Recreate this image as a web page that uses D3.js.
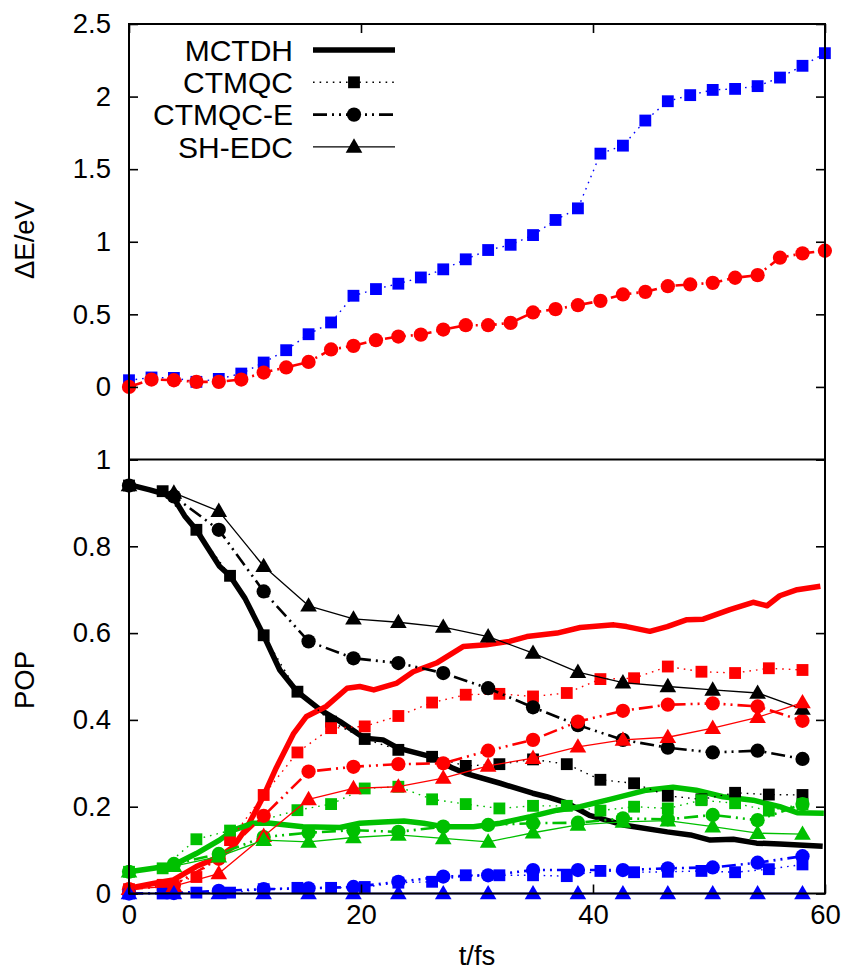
<!DOCTYPE html>
<html><head><meta charset="utf-8">
<script src="https://cdn.jsdelivr.net/npm/d3@7"></script>
<style>body{margin:0;background:#fff}svg{display:block}</style>
</head><body>
<svg id="c" width="850" height="970"></svg>
<script>
// ---------- data ----------
const xTicks = [0, 20, 40, 60];
const yTopTicks = [-0.5, 0, 0.5, 1, 1.5, 2, 2.5];
const yTopLabels = [0, 0.5, 1, 1.5, 2, 2.5];
const yBotTicks = [0, 0.2, 0.4, 0.6, 0.8, 1];

// top panel (energy) time grid, fs
const topTime = [0,1.94,3.87,5.81,7.74,9.68,11.61,13.55,15.48,17.42,19.35,21.29,23.22,25.16,27.09,29.03,30.96,32.90,34.83,36.77,38.70,40.64,42.58,44.51,46.45,48.38,50.32,52.25,54.19,56.12,58.06,59.99];
const topCTMQC = [0.046,0.065,0.062,0.035,0.055,0.092,0.168,0.253,0.363,0.444,0.628,0.674,0.711,0.754,0.81,0.879,0.943,0.979,1.046,1.15,1.23,1.607,1.662,1.835,1.968,2.01,2.046,2.053,2.072,2.131,2.212,2.299];
const topCTMQCE = [0.0,0.051,0.046,0.035,0.035,0.051,0.099,0.134,0.172,0.258,0.283,0.322,0.347,0.36,0.395,0.425,0.425,0.441,0.513,0.536,0.563,0.593,0.637,0.655,0.694,0.706,0.717,0.752,0.770,0.89,0.92,0.938];

// bottom panel: CTMQC time grid
const sqTime = [0,2.90,5.81,8.71,11.61,14.52,17.42,20.32,23.22,26.13,29.03,31.93,34.83,37.74,40.64,43.54,46.45,49.35,52.25,55.16,58.06];
const sqBlack = [0.94,0.927,0.838,0.732,0.595,0.465,0.396,0.356,0.331,0.315,0.294,0.298,0.309,0.298,0.262,0.254,0.225,0.217,0.232,0.228,0.227];
const sqRed   = [0.01,0.02,0.038,0.123,0.227,0.325,0.381,0.385,0.409,0.44,0.458,0.46,0.454,0.462,0.494,0.496,0.523,0.511,0.508,0.519,0.515];
const sqGreen = [0.05,0.058,0.125,0.145,0.17,0.192,0.206,0.242,0.246,0.217,0.206,0.196,0.202,0.202,0.191,0.2,0.196,0.215,0.208,0.191,0.206];
const sqBlue  = [0,0,0.002,0.002,0.01,0.013,0.013,0.015,0.025,0.027,0.042,0.042,0.042,0.04,0.052,0.049,0.05,0.052,0.049,0.056,0.067];

// bottom panel: CTMQC-E and SH-EDC time grid
const ctTime = [0,3.87,7.74,11.61,15.48,19.35,23.22,27.09,30.96,34.83,38.70,42.58,46.45,50.32,54.19,58.06];
const ceBlack = [0.94,0.915,0.838,0.696,0.581,0.542,0.531,0.508,0.473,0.429,0.388,0.354,0.336,0.325,0.329,0.31];
const ceRed   = [0.01,0.019,0.08,0.179,0.281,0.292,0.298,0.3,0.329,0.354,0.396,0.421,0.435,0.438,0.431,0.398];
const ceGreen = [0.05,0.068,0.091,0.13,0.14,0.146,0.142,0.154,0.158,0.162,0.163,0.173,0.171,0.181,0.169,0.206];
const ceBlue  = [0,0.001,0.006,0.01,0.012,0.015,0.027,0.039,0.042,0.054,0.054,0.054,0.058,0.06,0.071,0.086];
const shBlack = [0.94,0.923,0.881,0.754,0.663,0.633,0.625,0.614,0.592,0.554,0.51,0.486,0.477,0.469,0.462,0.425];
const shRed   = [0.01,0.017,0.046,0.132,0.217,0.242,0.246,0.266,0.294,0.312,0.338,0.354,0.36,0.381,0.406,0.44];
const shGreen = [0.05,0.063,0.085,0.123,0.119,0.129,0.135,0.127,0.119,0.14,0.158,0.165,0.168,0.154,0.139,0.137];
const shBlue  = [0,0,0,0,0,0,0,0,0,0,0,0,0,0,0,0];

// MCTDH curves [t (fs), population]
const mctdhBlack = [[0,0.942],[1.8,0.93],[3.1,0.92],[4,0.905],[4.8,0.87],[5.8,0.838],[6.7,0.80],[7.8,0.754],[8.7,0.732],[10,0.68],[11.6,0.595],[13,0.515],[14.5,0.465],[16.5,0.423],[18.2,0.396],[20.3,0.358],[21.9,0.354],[23.2,0.335],[26.1,0.315],[27.9,0.289],[29,0.277],[32,0.254],[34.8,0.231],[36,0.223],[37.8,0.208],[39.7,0.18],[42.6,0.158],[46.4,0.142],[48.4,0.135],[50.1,0.123],[52.1,0.125],[54.1,0.116],[56.1,0.114],[59.8,0.109]];
const mctdhRed = [[0,0.012],[2.1,0.023],[3.8,0.031],[5.8,0.062],[7.8,0.085],[9,0.108],[10.2,0.154],[11.6,0.225],[12.7,0.29],[14.2,0.369],[15.3,0.408],[17,0.431],[18.8,0.473],[19.9,0.477],[21.1,0.469],[23.1,0.485],[24.5,0.511],[26.5,0.531],[28.8,0.569],[30.8,0.573],[32.8,0.581],[34.3,0.592],[36.9,0.6],[38.9,0.613],[41.8,0.619],[42.9,0.615],[44.9,0.604],[46.4,0.615],[48.1,0.631],[49.5,0.632],[51.8,0.654],[53.8,0.671],[55,0.663],[56.1,0.686],[57.6,0.7],[59.6,0.708]];
const mctdhGreen = [[0,0.05],[2.1,0.058],[3.8,0.065],[5.8,0.092],[7.8,0.123],[9,0.146],[10.7,0.162],[12.2,0.162],[15,0.154],[18.2,0.152],[19.9,0.162],[21.9,0.165],[23.7,0.167],[25.4,0.162],[27.1,0.154],[29.7,0.154],[32,0.162],[34.6,0.177],[36.9,0.192],[38.9,0.2],[41.8,0.219],[44.6,0.238],[46.9,0.245],[48.9,0.238],[51.2,0.223],[53.8,0.215],[56.1,0.2],[57.6,0.186],[59.9,0.185]];

const colBlack = "#000000", colRed = "#ff0000", colGreen = "#00c000", colBlue = "#0000ff";
const legendNames = ["MCTDH", "CTMQC", "CTMQC-E", "SH-EDC"];

// ---------- layout ----------
const svg = d3.select("#c");
const xL = 129, xR = 825, yT = 24, yM = 459.5, yB = 893.5;
const x = d3.scaleLinear().domain([0, 60]).range([xL, xR]);
const yTop = d3.scaleLinear().domain([-0.5, 2.5]).range([yM, yT]);
const yBot = d3.scaleLinear().domain([0, 1]).range([yB, yM]);
const FONT = "'Liberation Sans', Arial, Helvetica, sans-serif";

const styles = {
  ctmqc:  {w: 1.4, dash: "1.6,5", marker: "square"},
  ctmqce: {w: 2.6, dash: "14,5,2,5,2,5", marker: "circle"},
  shedc:  {w: 1.3, dash: null, marker: "triangle"},
  mctdh:  {w: 5.5, dash: null, marker: null}
};
const symGen = {
  square: d3.symbol().type(d3.symbolSquare).size(140),
  circle: d3.symbol().type(d3.symbolCircle).size(160),
  triangle: d3.symbol().type(d3.symbolTriangle).size(120)
};

function drawSeries(g, ts, vs, y, col, st) {
  const pts = ts.map((t, i) => [t, vs[i]]);
  drawPairs(g, pts, y, col, st);
}
function drawPairs(g, pts, y, col, st) {
  const line = d3.line().x(d => x(d[0])).y(d => y(d[1]));
  const p = g.append("path").attr("d", line(pts)).attr("fill", "none")
    .attr("stroke", col).attr("stroke-width", st.w).attr("stroke-linejoin", "round");
  if (st.dash) p.attr("stroke-dasharray", st.dash);
  if (st.marker) {
    g.selectAll(null).data(pts).enter().append("path")
      .attr("d", symGen[st.marker]())
      .attr("transform", d => `translate(${x(d[0])},${y(d[1]) + (st.marker === "triangle" ? 1 : 0)})`)
      .attr("fill", col);
  }
}

// ---------- top panel ----------
const gTop = svg.append("g");
drawSeries(gTop, topTime, topCTMQC, yTop, colBlue, styles.ctmqc);
drawSeries(gTop, topTime, topCTMQCE, yTop, colRed, styles.ctmqce);

// ---------- bottom panel ----------
const gBot = svg.append("g");
drawPairs(gBot, mctdhBlack, yBot, colBlack, styles.mctdh);
drawPairs(gBot, mctdhRed, yBot, colRed, styles.mctdh);
drawPairs(gBot, mctdhGreen, yBot, colGreen, styles.mctdh);

drawSeries(gBot, sqTime, sqBlack, yBot, colBlack, styles.ctmqc);
drawSeries(gBot, sqTime, sqRed, yBot, colRed, styles.ctmqc);
drawSeries(gBot, sqTime, sqGreen, yBot, colGreen, styles.ctmqc);
drawSeries(gBot, sqTime, sqBlue, yBot, colBlue, styles.ctmqc);

drawSeries(gBot, ctTime, ceBlack, yBot, colBlack, styles.ctmqce);
drawSeries(gBot, ctTime, ceRed, yBot, colRed, styles.ctmqce);
drawSeries(gBot, ctTime, ceGreen, yBot, colGreen, styles.ctmqce);
drawSeries(gBot, ctTime, ceBlue, yBot, colBlue, styles.ctmqce);

drawSeries(gBot, ctTime, shBlack, yBot, colBlack, styles.shedc);
drawSeries(gBot, ctTime, shRed, yBot, colRed, styles.shedc);
drawSeries(gBot, ctTime, shGreen, yBot, colGreen, styles.shedc);
drawSeries(gBot, ctTime, shBlue, yBot, colBlue, styles.shedc);

// ---------- axes ----------
function styleAxis(g, showText) {
  g.select(".domain").remove();
  g.selectAll(".tick line").attr("stroke", "#000").attr("stroke-width", 1.6);
  g.selectAll(".tick text").attr("font-family", FONT).attr("font-size", 27.5).attr("fill", "#000");
  if (!showText) g.selectAll(".tick text").remove();
}
// top panel axes
svg.append("g").attr("transform", `translate(${xL},0)`)
  .call(d3.axisLeft(yTop).tickValues(yTopTicks).tickSize(-9).tickPadding(18)
    .tickFormat(d => yTopLabels.includes(d) ? d3.format("")(d) : ""))
  .call(g => styleAxis(g, true));
svg.append("g").attr("transform", `translate(${xR},0)`)
  .call(d3.axisRight(yTop).tickValues(yTopTicks).tickSize(-9))
  .call(g => styleAxis(g, false));
svg.append("g").attr("transform", `translate(0,${yT})`)
  .call(d3.axisTop(x).tickValues(xTicks).tickSize(-9))
  .call(g => styleAxis(g, false));
// bottom panel axes
svg.append("g").attr("transform", `translate(${xL},0)`)
  .call(d3.axisLeft(yBot).tickValues(yBotTicks).tickSize(-9).tickPadding(18).tickFormat(d3.format("")))
  .call(g => styleAxis(g, true));
svg.append("g").attr("transform", `translate(${xR},0)`)
  .call(d3.axisRight(yBot).tickValues(yBotTicks).tickSize(-9))
  .call(g => styleAxis(g, false));
svg.append("g").attr("transform", `translate(0,${yB})`)
  .call(d3.axisBottom(x).tickValues(xTicks).tickSize(-9).tickPadding(11))
  .call(g => styleAxis(g, true));

// frames
svg.append("rect").attr("x", xL).attr("y", yT).attr("width", xR - xL).attr("height", yB - yT)
  .attr("fill", "none").attr("stroke", "#000").attr("stroke-width", 2);
svg.append("line").attr("x1", xL).attr("x2", xR).attr("y1", yM).attr("y2", yM)
  .attr("stroke", "#000").attr("stroke-width", 2);

// axis titles
svg.append("text").attr("transform", `translate(34,240) rotate(-90)`).attr("text-anchor", "middle")
  .attr("font-family", FONT).attr("font-size", 27.5).text("ΔE/eV");
svg.append("text").attr("transform", `translate(34,680) rotate(-90)`).attr("text-anchor", "middle")
  .attr("font-family", FONT).attr("font-size", 27.5).text("POP");
svg.append("text").attr("x", 477).attr("y", 965).attr("text-anchor", "middle")
  .attr("font-family", FONT).attr("font-size", 27.5).text("t/fs");

// legend
const legStyles = [styles.mctdh, styles.ctmqc, styles.ctmqce, styles.shedc];
const leg = svg.append("g");
legendNames.forEach((name, i) => {
  const cy = 50 + i * 32.3;
  leg.append("text").attr("x", 293).attr("y", cy).attr("dy", "0.36em").attr("text-anchor", "end")
    .attr("font-family", FONT).attr("font-size", 30).text(name);
  const st = legStyles[i];
  const ln = leg.append("line").attr("x1", 313).attr("x2", 395).attr("y1", cy).attr("y2", cy)
    .attr("stroke", "#000").attr("stroke-width", st.w);
  if (st.dash) ln.attr("stroke-dasharray", st.dash);
  if (st.marker) leg.append("path").attr("d", symGen[st.marker]())
    .attr("transform", `translate(354,${cy + (st.marker === "triangle" ? 1 : 0)})`).attr("fill", "#000");
});
</script>
</body></html>
